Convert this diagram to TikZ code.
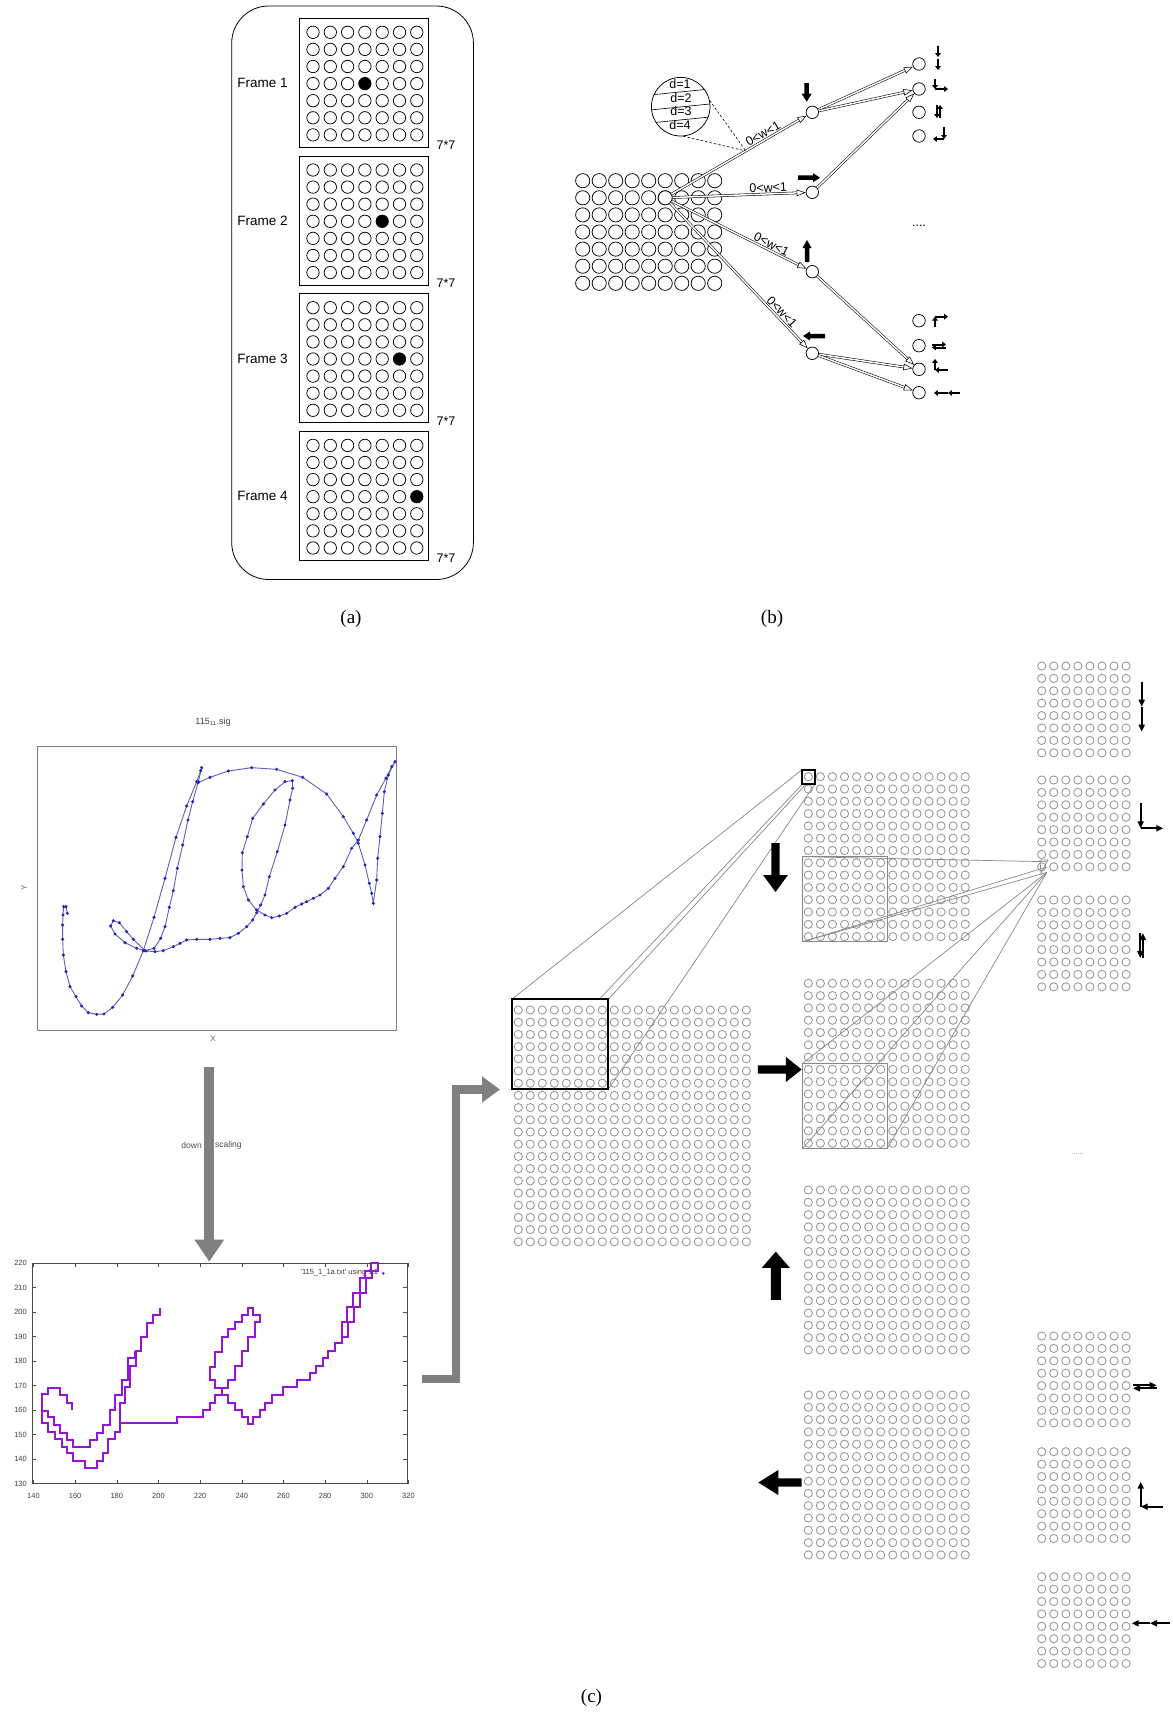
\documentclass[tikz,border=0pt]{standalone}
\usepackage{fontspec}
\setmainfont{Liberation Sans}
\newfontfamily\seriffont{Liberation Serif}
\usetikzlibrary{arrows.meta}
\definecolor{cgray}{RGB}{150,150,150}
\definecolor{sigblue}{RGB}{35,35,190}
\definecolor{sigline}{RGB}{95,95,185}
\definecolor{purp}{RGB}{150,20,215}
\definecolor{arrgray}{RGB}{128,128,128}
\newcommand\blkarrow[7]{\fill[black,shift={(#1,#2)},rotate=#3] ({-(#4)/2},{-(#5)/2}) -- ({(#4)/2-(#7)},{-(#5)/2}) -- ({(#4)/2-(#7)},{-(#6)/2}) -- ({(#4)/2},0) -- ({(#4)/2-(#7)},{(#6)/2}) -- ({(#4)/2-(#7)},{(#5)/2}) -- ({-(#4)/2},{(#5)/2}) -- cycle;}
\begin{document}
\begin{tikzpicture}[x=1pt,y=-1pt,
  acirc/.style={line width=0.75pt},
  gc/.style={draw=cgray, line width=0.85pt},
  lbl/.style={font=\fontsize{13.5}{15}\selectfont, inner sep=0pt},
  smalltxt/.style={font=\fontsize{12.5}{14}\selectfont, inner sep=0pt},
  wlbl/.style={font=\fontsize{12.5}{14}\selectfont, inner sep=1.5pt},
  bnode/.style={circle, draw, fill=white, minimum size=14pt, inner sep=0pt, line width=0.75pt},
  mnode/.style={circle, draw, fill=white, minimum size=12.5pt, inner sep=0pt, line width=0.75pt},
  dbl/.style={draw, double=white, double distance=1.5pt, line width=0.55pt, -{Triangle[open,length=9pt,width=6.5pt]}},
  glyph/.style={line width=2pt, -{Triangle[length=3.8pt,width=5.5pt]}},
  cglyph/.style={line width=1.8pt, -{Triangle[length=7pt,width=6pt]}},
  cline/.style={draw=cgray!90!black, line width=0.7pt},
  captxt/.style={font=\seriffont\fontsize{19}{21}\selectfont, inner sep=0pt},
  tickl/.style={font=\fontsize{7.5}{8}\selectfont, inner sep=0pt, text=black!75},
  purpline/.style={draw=purp, line width=2.3pt, line join=miter}
]
\useasboundingbox (0,0) rectangle (1172,1715);
\fill[white] (0,0) rectangle (1172,1715);

% ================= (a) =================
\draw[line width=0.8pt, rounded corners=37pt] (231.7,6) rectangle (473.4,579.5);
\foreach \k in {0,1,2,3} {
  \pgfmathsetmacro\ftop{18.3+\k*137.7}
  \pgfmathtruncatemacro\kk{\k+1}
  \draw[line width=0.8pt] (299,\ftop) rectangle (428.7,\ftop+129);
  \foreach \i in {0,...,6} \foreach \j in {0,...,6}
    \draw[acirc] ({313+\i*17.3},{\ftop+14+\j*17.1}) circle (6.2);
  \fill ({313+(3+\k)*17.3},{\ftop+14+3*17.1}) circle (6.2);
  \node[lbl] (fr\k) at (262.5,{\ftop+65}) {Frame \kk};
  \node[smalltxt] (sz\k) at (446,{\ftop+127}) {7*7};
}
\node[captxt] (capa) at (351,619) {(a)};

% ================= (b) =================
\foreach \i in {0,...,8} \foreach \j in {0,...,6}
  \draw[line width=0.75pt] ({582.7+\i*16.5},{180.7+\j*17.1}) circle (7.1);
\node[bnode] (src) at (665.2,197.8) {};
\node[mnode] (m1) at (812.3,112.3) {};
\node[mnode] (m2) at (812.3,192.3) {};
\node[mnode] (m3) at (812.3,271.7) {};
\node[mnode] (m4) at (812.3,353.3) {};
\node[mnode] (r1) at (919,64) {};
\node[mnode] (r2) at (919,89) {};
\node[mnode] (r3) at (919,112.3) {};
\node[mnode] (r4) at (919,136) {};
\node[mnode] (r5) at (919,320.7) {};
\node[mnode] (r6) at (919,345.7) {};
\node[mnode] (r7) at (919,369.3) {};
\node[mnode] (r8) at (919,392.7) {};
\draw[dbl] (src) -- node[wlbl, sloped, above, pos=0.7] {0<w<1} (m1);
\draw[dbl] (src) -- node[wlbl, sloped, above, pos=0.72] {0<w<1} (m2);
\draw[dbl] (src) -- node[wlbl, sloped, above, pos=0.72] {0<w<1} (m3);
\draw[dbl] (src) -- node[wlbl, sloped, above, pos=0.78] {0<w<1} (m4);
\draw[dbl] (m1) -- (r1);
\draw[dbl] (m1) -- (r2);
\draw[dbl] (m2) -- (r2);
\draw[dbl] (m3) -- (r7);
\draw[dbl] (m4) -- (r7);
\draw[dbl] (m4) -- (r8);
% lens
\node[circle, draw, fill=white, minimum size=58.6pt, inner sep=0pt, line width=0.75pt] (lens) at (680.7,106.7) {};
\begin{scope}
  \clip (680.7,106.7) circle (29.3);
  \draw[line width=0.6pt] (640,96) -- (720,88);
  \draw[line width=0.6pt] (640,111) -- (720,103);
  \draw[line width=0.6pt] (640,124) -- (720,116);
  \node[smalltxt] (d1) at (680,84.5) {d=1};
  \node[smalltxt] (d2) at (681,98.5) {d=2};
  \node[smalltxt] (d3) at (681,111.5) {d=3};
  \node[smalltxt] (d4) at (680,125.5) {d=4};
\end{scope}
\path (src) -- coordinate[pos=0.55] (tap) (m1);
\draw[line width=0.6pt, dash pattern=on 2.5pt off 2pt] (lens.12) -- (tap);
\draw[line width=0.6pt, dash pattern=on 2.5pt off 2pt] (lens.-85) -- (tap);
% block arrows (b)
\blkarrow{806.7}{92.5}{-90}{18.5}{4.5}{10}{8}
\blkarrow{809}{177.7}{0}{22}{4.5}{9}{7}
\blkarrow{807}{251}{90}{22}{4.5}{9}{8}
\blkarrow{814}{336}{180}{22}{4.5}{9}{7}
% small glyphs (b)
\draw[glyph] (938,46) -- (938,57);
\draw[glyph] (938,59) -- (938,70);
\draw[glyph] (935,79) -- (935,89);
\draw[glyph] (935,89) -- (948,89);
\draw[glyph] (937,105) -- (937,118);
\draw[glyph] (940,118) -- (940,105);
\draw[glyph] (944,127) -- (944,139);
\draw[glyph] (944,139) -- (933,139);
\draw[glyph] (935,327) -- (935,316.7);
\draw[glyph] (935,316.7) -- (948,316.7);
\draw[glyph] (932,344.5) -- (946,344.5);
\draw[glyph] (946,347.5) -- (932,347.5);
\draw[glyph] (948,370) -- (935,370);
\draw[glyph] (935,370) -- (935,359);
\draw[glyph] (960,393) -- (948,393);
\draw[glyph] (948,393) -- (934,393);
\node[smalltxt] (bdots) at (919,226) {....};
\node[captxt] (capb) at (772,619) {(b)};

% ================= (c) =================
% --- signature plot ---
\node[font=\fontsize{9}{10}\selectfont, text=black!75] (sigtitle) at (213,721.7) {115\textsubscript{11}.sig};
\draw[arrgray, line width=1pt] (37.3,746.7) rectangle (396.7,1030);
\node[font=\fontsize{8}{9}\selectfont, text=black!60] (xlab) at (213,1039) {X};
\node[font=\fontsize{8}{9}\selectfont, text=black!60, rotate=90] (ylab) at (24,888) {Y};
\begin{scope}[shift={(30,700)}, scale=1/3]
  \draw[sigline, line width=0.9pt] plot coordinates {(112,640) (108,620) (101,620) (99,645) (98,675) (98,718) (100,765) (108,815) (120,860) (138,890) (155,918) (175,938) (200,943) (222,942) (248,922) (278,885) (308,828) (340,752) (372,652) (405,535) (438,412) (470,318) (500,245) (512,212) (515,203)};
  \draw[sigline, line width=0.9pt] plot coordinates {(515,203) (505,245) (488,305) (474,360) (458,435) (442,505) (430,572) (418,622) (405,680) (392,715) (372,745) (345,752) (310,718) (290,695) (268,668) (250,662) (242,678) (255,702) (285,728) (320,745) (348,753) (375,755) (400,752) (430,740) (450,730) (470,720) (500,718) (540,718) (570,715) (600,713) (625,700) (650,680) (668,660) (680,638) (692,615) (705,585) (718,530) (742,455) (765,375) (780,300) (788,265) (787,242) (765,245) (735,270) (700,312) (668,355) (652,410) (637,458) (636,510) (640,560) (655,600) (680,630) (705,645) (725,653) (748,648) (770,640) (795,622) (815,612) (830,605) (850,595) (870,585) (895,565) (915,535) (940,500) (965,445) (985,420) (1010,360) (1040,285) (1068,235) (1085,200) (1095,185)};
  \draw[sigline, line width=0.9pt] plot coordinates {(505,248) (540,232) (595,213) (665,203) (740,208) (818,232) (890,282) (940,350) (970,400) (985,430) (1005,495) (1018,550) (1025,580) (1030,610) (1040,540) (1043,475) (1050,410) (1057,340) (1063,275) (1075,225) (1095,185)};
  \foreach \p in {(112,640),(108,620),(101,620),(99,645),(98,675),(98,718),(100,765),(108,815),(120,860),(138,890),(155,918),(175,938),(200,943),(222,942),(248,922),(278,885),(308,828),(340,752),(372,652),(405,535),(438,412),(470,318),(500,245),(512,212),(515,203),
    (505,245),(488,305),(474,360),(458,435),(442,505),(430,572),(418,622),(405,680),(392,715),(372,745),(345,752),(310,718),(290,695),(268,668),(250,662),(242,678),(255,702),(285,728),(320,745),(348,753),(375,755),(400,752),(430,740),(450,730),(470,720),(500,718),(540,718),(570,715),(600,713),(625,700),(650,680),(668,660),(680,638),(692,615),(705,585),(718,530),(742,455),(765,375),(780,300),(788,265),(787,242),(765,245),(735,270),(700,312),(668,355),(652,410),(637,458),(636,510),(640,560),(655,600),(680,630),(705,645),(725,653),(748,648),(770,640),(795,622),(815,612),(830,605),(850,595),(870,585),(895,565),(915,535),(940,500),(965,445),(985,420),(1010,360),(1040,285),(1068,235),(1085,200),(1095,185),
    (505,248),(540,232),(595,213),(665,203),(740,208),(818,232),(890,282),(940,350),(970,400),(985,430),(1005,495),(1018,550),(1025,580),(1030,610),(1040,540),(1043,475),(1050,410),(1057,340),(1063,275),(1075,225)}
    \fill[sigblue] \p circle (5.2);
\end{scope}

% --- down scaling arrow ---
\coordinate (dsA) at (209.3,1067.3);
\coordinate (dsB) at (209.3,1261.7);
\draw[arrgray, line width=10pt, -{Triangle[length=22pt,width=28pt]}] (dsA) -- (dsB);
\node[font=\fontsize{8.5}{9}\selectfont, text=black!70, anchor=east, inner sep=0pt] (dwn) at (202,1145) {down};
\node[font=\fontsize{8.5}{9}\selectfont, text=black!70, anchor=west, inner sep=0pt] (scl) at (215,1145) {scaling};

% --- bottom plot ---
\draw[black!70, line width=0.6pt] (32,1263) rectangle (407,1483.5);
\foreach \v in {130,140,...,220} {
  \pgfmathsetmacro\yy{1263+(220-\v)*2.45}
  \node[tickl, anchor=east] at (27,\yy) {\v};
  \draw[black!70, line width=0.5pt] (32,\yy) -- (36,\yy);
  \draw[black!70, line width=0.5pt] (407,\yy) -- (403,\yy);
}
\foreach \v in {140,160,...,320} {
  \pgfmathsetmacro\xx{33.5+(\v-140)*2.083}
  \node[tickl] at (\xx,1496) {\v};
  \draw[black!70, line width=0.5pt] (\xx,1483.5) -- (\xx,1479.5);
  \draw[black!70, line width=0.5pt] (\xx,1263) -- (\xx,1267);
}
\node[tickl, anchor=east] (legend) at (379,1273) {\textquotesingle 115\_1\_1a.txt\textquotesingle{} using 1:2};
\begin{scope}[shift={(30,1240)}, scale=1/3]
  \draw[purpline] (125,510) -- (125,490) -- (110,490) -- (110,465) -- (90,465) -- (90,443) -- (55,443) -- (55,462) -- (35,462) -- (35,550) -- (55,550) -- (55,575) -- (75,575) -- (75,598) -- (95,598) -- (95,620) -- (110,620) -- (110,640) -- (128,640) -- (128,662) -- (165,662) -- (165,685) -- (200,685) -- (200,662) -- (218,662) -- (218,640) -- (235,640) -- (235,598) -- (255,598) -- (255,575) -- (270,575) -- (270,550) -- (270,490) -- (285,490) -- (285,440) -- (300,440) -- (300,378) -- (318,378) -- (318,332) -- (332,332) -- (332,290) -- (350,290) -- (350,248) -- (370,248) -- (370,225) -- (390,225) -- (390,203);
  \draw[purpline] (40,512) -- (55,512) -- (55,532) -- (72,532) -- (72,555) -- (90,555) -- (90,578) -- (110,578) -- (110,600) -- (130,600) -- (130,620) -- (180,620) -- (180,600) -- (200,600) -- (200,578) -- (218,578) -- (218,555) -- (240,555) -- (240,510) -- (255,510) -- (255,465) -- (275,465) -- (275,420) -- (295,420) -- (295,355) -- (315,355) -- (315,332);
  \draw[purpline] (270,550) -- (440,550) -- (440,530) -- (520,530) -- (520,510) -- (540,510) -- (540,490) -- (555,490) -- (555,465) -- (575,465) -- (575,445) -- (555,445) -- (555,420) -- (540,420) -- (540,380) -- (555,380) -- (555,335) -- (575,335) -- (575,290) -- (595,290) -- (595,268) -- (615,268) -- (615,245) -- (635,245) -- (635,225) -- (655,225) -- (655,205) -- (670,205) -- (670,225) -- (690,225) -- (690,245) -- (675,245) -- (675,290) -- (655,290) -- (655,332) -- (635,332) -- (635,378) -- (615,378) -- (615,420) -- (595,420) -- (595,445) -- (575,445) -- (575,465) -- (595,465) -- (595,490) -- (615,490) -- (615,510) -- (635,510) -- (635,530) -- (655,530) -- (655,552) -- (670,552) -- (670,530) -- (690,530) -- (690,510) -- (705,510) -- (705,488) -- (725,488) -- (725,465) -- (760,465) -- (760,442) -- (800,442) -- (800,420) -- (840,420) -- (840,400) -- (858,400) -- (858,378) -- (878,378) -- (878,355) -- (895,355) -- (895,332) -- (915,332) -- (915,310) -- (935,310) -- (935,245) -- (950,245) -- (950,200) -- (970,200) -- (970,158) -- (990,158) -- (990,115) -- (1005,115) -- (1005,92) -- (1022,92) -- (1022,70) -- (1045,70) -- (1045,92) -- (1025,92);
  \draw[purpline] (935,290) -- (955,290) -- (955,245) -- (972,245) -- (972,200) -- (990,200) -- (990,160) -- (1008,160) -- (1008,115) -- (1025,115) -- (1025,92);
  \fill[purp] (1060,100) circle (4.5);
\end{scope}

% --- bent gray arrow ---
\coordinate (bA) at (421.7,1379);
\coordinate (bB) at (456,1379);
\coordinate (bC) at (456,1089.5);
\coordinate (bD) at (500,1089.5);
\draw[arrgray, line width=8.3pt, line join=miter, -{Triangle[length=18pt,width=25pt]}] (bA) -- (bB) -- (bC) -- (bD);

% --- circle grids ---
\foreach \i in {0,...,19} \foreach \j in {0,...,19}
  \draw[gc] ({518.3+\i*12},{1010+\j*12.2}) circle (4.1);
\foreach \gy in {776.7,983.3,1190,1395}
  \foreach \i in {0,...,13} \foreach \j in {0,...,13}
    \draw[gc] ({808.3+\i*12.07},{\gy+\j*12.3}) circle (4.1);
\foreach \gy in {666,780,900,1336,1451.7,1576.7}
  \foreach \i in {0,...,7} \foreach \j in {0,...,7}
    \draw[gc] ({1041.7+\i*12.05},{\gy+\j*12.4}) circle (4.1);

% --- projection lines ---
\coordinate (sTL) at (801.7,770);
\coordinate (sBL) at (802.5,784);
\coordinate (sBL2) at (806,784);
\coordinate (sBR) at (815,784);
\coordinate (bTL) at (511.7,999.3);
\coordinate (bTR1) at (600,998.5);
\coordinate (bTR) at (608.3,999.3);
\coordinate (bBR) at (608.3,1089.3);
\draw[cline] (sTL) -- (bTL);
\draw[cline] (sBL) -- (bTR1);
\draw[cline] (sBL2) -- (bTR);
\draw[cline] (sBR) -- (bBR);
\draw[black, line width=2pt] (bTL) rectangle (bBR);
\draw[black, line width=1.8pt] (801.7,770) rectangle (815,784);

\coordinate (cv) at (1046.7,861.7);
\coordinate (cv2) at (1046.7,867);
\coordinate (cv3) at (1046.7,872.5);
\coordinate (q1TL) at (802.7,856.7);
\coordinate (q1BR) at (887.3,941.7);
\coordinate (q1BL) at (802.7,941.7);
\coordinate (q2TL) at (802.7,1063.3);
\coordinate (q2BR) at (887.3,1148.3);
\coordinate (q2BL) at (802.7,1148.3);
\draw[cline] (q1TL) rectangle (q1BR);
\draw[cline] (q2TL) rectangle (q2BR);
\draw[cline] (q1TL) -- (cv);
\draw[cline] (q1BL) -- (cv2);
\draw[cline] (q1BL) -- (cv3);
\draw[cline] (q2TL) -- (cv3);
\draw[cline] (q2BL) -- (cv3);
\draw[cline] (q2BR) -- (cv3);
\draw[cline] (1040,860) -- (1048,860) -- (1041,873) -- cycle;
\draw[cgray!60, line width=0.8pt, dash pattern=on 1pt off 1pt] (1071.7,1153.3) -- (1083.3,1153.3);

% --- block arrows (c) ---
\blkarrow{775.5}{867.5}{-90}{49}{8.3}{25}{17}
\blkarrow{779.8}{1069.5}{0}{43.7}{8.3}{25}{15.7}
\blkarrow{775.8}{1275.8}{90}{48.3}{10}{28.3}{16.3}
\blkarrow{780}{1482.5}{180}{43.4}{8.3}{25}{20}

% --- small glyphs (c) ---
\draw[cglyph] (1141.7,681.7) -- (1141.7,706.7);
\draw[cglyph] (1141.7,706.7) -- (1141.7,731.7);
\draw[cglyph] (1140.7,803) -- (1140.7,828.3);
\draw[cglyph] (1140.7,828.3) -- (1163.3,828.3);
\draw[cglyph] (1140.3,933) -- (1140.3,958);
\draw[cglyph] (1142.8,958) -- (1142.8,933);
\draw[cglyph] (1133,1385.3) -- (1156.7,1385.3);
\draw[cglyph] (1156.7,1388.3) -- (1133,1388.3);
\draw[cglyph] (1163,1506.7) -- (1140.7,1506.7);
\draw[cglyph] (1140.7,1506.7) -- (1140.7,1481.7);
\draw[cglyph] (1170,1623.3) -- (1150,1623.3);
\draw[cglyph] (1150,1623.3) -- (1131.7,1623.3);

\node[captxt] (capc) at (591.5,1698) {(c)};
\end{tikzpicture}
\end{document}
